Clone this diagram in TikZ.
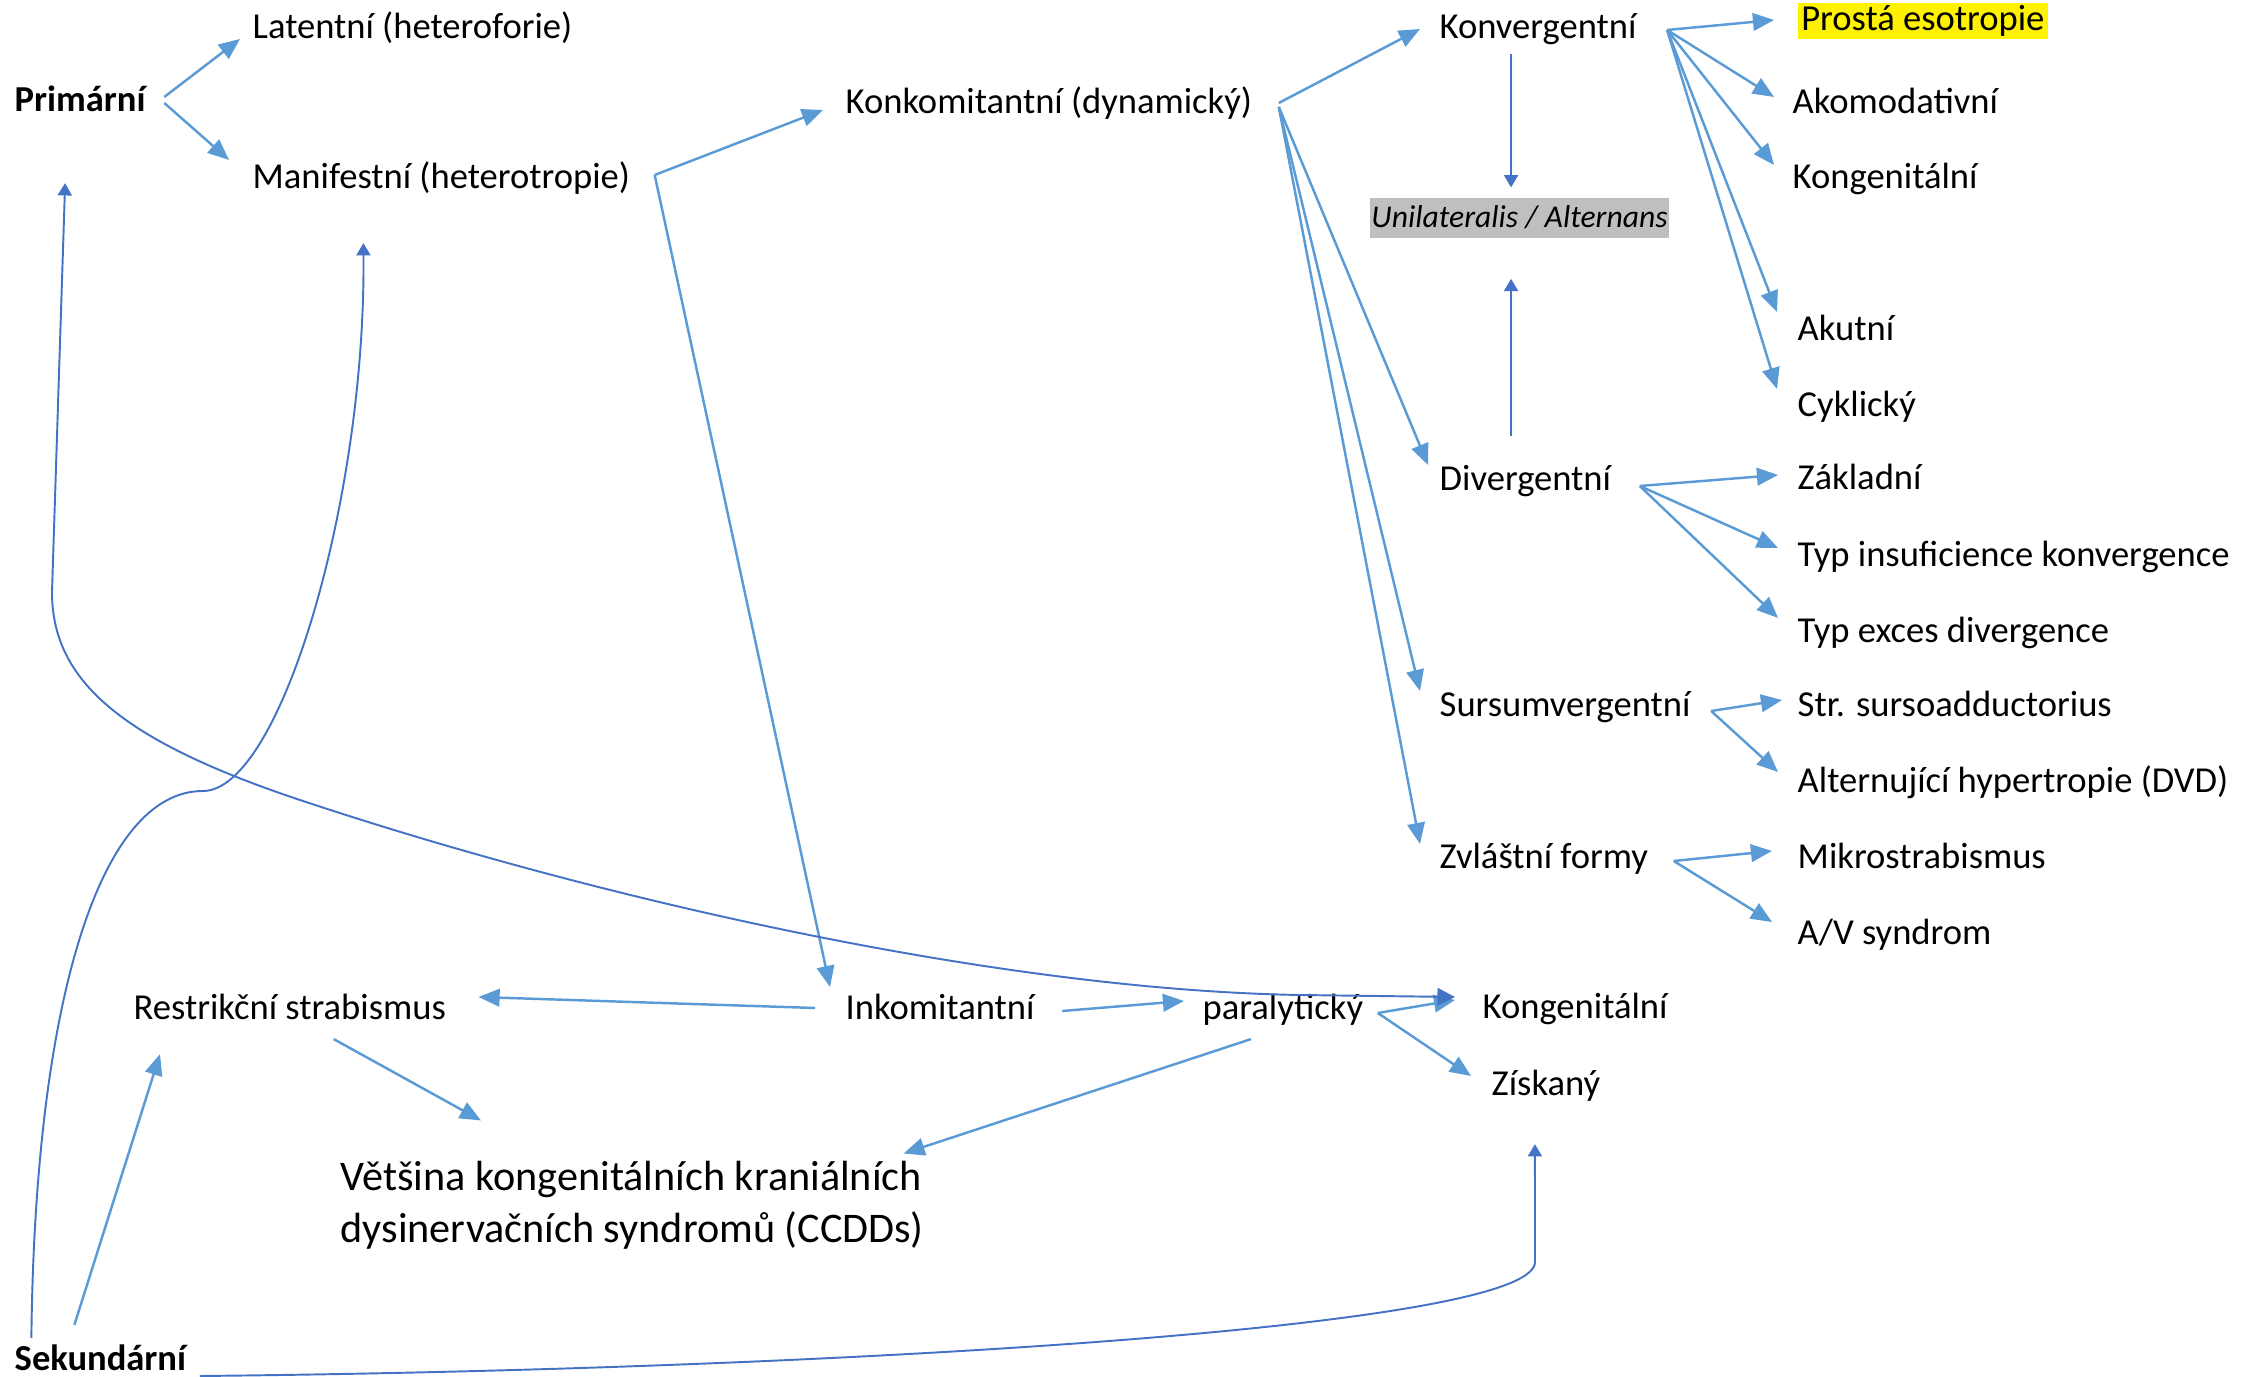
\documentclass[tikz,border=0pt]{standalone}
\usepackage{fontspec}
\setmainfont{Carlito}
\usetikzlibrary{arrows.meta}
\definecolor{svetla}{HTML}{5B9BD5}
\definecolor{tmava}{HTML}{4472C4}
\definecolor{seda}{HTML}{BFBFBF}
\tikzset{sipka/.style={line width=0.7pt, svetla, -{Triangle[length=6pt,width=5pt]}}}
\tikzset{tenka/.style={line width=0.55pt, tmava, -{Triangle[length=3.5pt,width=4pt]}}}
\tikzset{obe/.style={line width=0.55pt, tmava, {Triangle[length=3.5pt,width=4pt]}-{Triangle[length=5pt,width=5pt]}}}
\tikzset{pojem/.style={anchor=west, inner sep=0pt, text height=0.65em, text depth=0pt}}
\tikzset{tucne/.style={pojem, font=\fontsize{10.4}{12.5}\selectfont\bfseries}}

\begin{document}
\begin{tikzpicture}[
                x=0.01cm, y=-0.01cm,
                every node/.style={font=\fontsize{10.4}{12.5}\selectfont, text=black}
            ]
                \useasboundingbox (0,0) rectangle (2243,1377);

                % hlavni vetve
                \node[tucne] (prim) at (14,100) {Primární};
                \node[pojem] (lat) at (252,27) {Latentní (heteroforie)};
                \node[pojem] (man) at (252,177) {Manifestní (heterotropie)};
                \node[pojem] (konk) at (845,102) {Konkomitantní (dynamický)};
                \node[pojem] (inkom) at (845,1008) {Inkomitantní};

                % konkomitantni
                \node[pojem] (konv) at (1439,27) {Konvergentní};
                \node[pojem] (div) at (1439,479) {Divergentní};
                \node[pojem] (surs) at (1439,705) {Sursumvergentní};
                \node[pojem] (zvl) at (1439,857) {Zvláštní formy};
                \node[pojem, fill=seda, text height=0.78em, text depth=0.22em, inner xsep=0.5pt, inner ysep=0.7pt, font=\fontsize{9}{11}\selectfont\itshape] (unil) at (1369,218) {Unilateralis / Alternans};

                \node[pojem, fill=yellow, text height=0.78em, text depth=0.22em, inner xsep=1pt] (prosta) at (1797,21) {Prostá esotropie};
                \node[pojem] (akom) at (1792,102) {Akomodativní};
                \node[pojem] (kongT) at (1792,177) {Kongenitální};
                \node[pojem] (akut) at (1797,329) {Akutní};
                \node[pojem] (cykl) at (1797,405) {Cyklický};
                \node[pojem] (zakl) at (1797,478) {Základní};
                \node[pojem] (insuf) at (1797,555) {Typ insuficience konvergence};
                \node[pojem] (exces) at (1797,631) {Typ exces divergence};
                \node[pojem] (str) at (1797,705) {Str. sursoadductorius};
                \node[pojem] (dvd) at (1797,781) {Alternující hypertropie (DVD)};
                \node[pojem] (mikro) at (1797,857) {Mikrostrabismus};
                \node[pojem] (av) at (1797,933) {A/V syndrom};

                % inkomitantni
                \node[pojem] (restr) at (133,1008) {Restrikční strabismus};
                \node[pojem] (para) at (1202,1008) {paralytický};
                \node[pojem] (kongB) at (1482,1007) {Kongenitální};
                \node[pojem] (zisk) at (1491,1084) {Získaný};
                \node[anchor=base west, align=left, inner sep=0pt, font=\fontsize{12}{14.65}\selectfont] (vets) at (340,1242) {Většina kongenitálních kraniálních\\dysinervačních syndromů (CCDDs)};
                \node[tucne] (sek) at (14,1359) {Sekundární};

                \draw[sipka] ([shift={(18,-3)}]prim.east) -- ([shift={(-12,12)}]lat.west);
                \draw[sipka] ([shift={(18,3)}]prim.east) -- ([shift={(-23,-17)}]man.west);
                \draw[sipka] ([shift={(24,-2)}]man.east) -- ([shift={(-22,8)}]konk.west);
                \draw[sipka] ([shift={(24,-2)}]man.east) -- ([shift={(-15,-21)}]inkom.west);

                \draw[sipka] ([shift={(26,1)}]konk.east) -- ([shift={(-19,2)}]konv.west);
                \draw[sipka] ([shift={(26,5)}]konk.east) -- ([shift={(-11,-14)}]div.west);
                \draw[sipka] ([shift={(26,5)}]konk.east) -- ([shift={(-19,-14)}]surs.west);
                \draw[sipka] ([shift={(26,5)}]konk.east) -- ([shift={(-19,-13)}]zvl.west);

                \draw[sipka] ([shift={(30,3)}]konv.east) -- ([shift={(-23,-1)}]prosta.west);
                \draw[sipka] ([shift={(30,3)}]konv.east) -- ([shift={(-18,-5)}]akom.west);
                \draw[sipka] ([shift={(30,3)}]konv.east) -- ([shift={(-18,-12)}]kongT.west);
                \draw[sipka] ([shift={(30,3)}]konv.east) -- ([shift={(-20,-17)}]akut.west);
                \draw[sipka] ([shift={(30,3)}]konv.east) -- ([shift={(-20,-16)}]cykl.west);

                % svisle k unil
                \coordinate (osa) at ([shift={(-27,15)}]konv.south);
                \coordinate (osa2) at ([shift={(0,-31)}]div.north);
                \draw[tenka, shorten >=2.8pt] (osa) -- (osa |- unil.north);
                \draw[tenka, shorten >=11.4pt] (osa2 -| osa) -- (osa |- unil.south);

                \draw[sipka] ([shift={(28,7)}]div.east) -- ([shift={(-19,-3)}]zakl.west);
                \draw[sipka] ([shift={(28,7)}]div.east) -- ([shift={(-19,-7)}]insuf.west);
                \draw[sipka] ([shift={(28,7)}]div.east) -- ([shift={(-19,-13)}]exces.west);
                \draw[sipka] ([shift={(20,6)}]surs.east) -- ([shift={(-15,-5)}]str.west);
                \draw[sipka] ([shift={(20,6)}]surs.east) -- ([shift={(-19,-9)}]dvd.west);
                \draw[sipka] ([shift={(25,4)}]zvl.east) -- ([shift={(-25,-6)}]mikro.west);
                \draw[sipka] ([shift={(25,4)}]zvl.east) -- ([shift={(-25,-11)}]av.west);

                \draw[sipka] ([shift={(-30,0)}]inkom.west) -- ([shift={(32,-11)}]restr.east);
                \draw[sipka] ([shift={(27,3)}]inkom.east) -- ([shift={(-18,-7)}]para.west);
                \draw[sipka] ([shift={(14,5)}]para.east) -- ([shift={(-27,-7)}]kongB.west);
                \draw[sipka] ([shift={(14,5)}]para.east) -- ([shift={(-20,-8)}]zisk.west);
                \draw[sipka] ([shift={(-32,19)}]para.south) -- ([shift={(-21,-7)}]vets.north east);
                \draw[sipka] ([shift={(44,19)}]restr.south) -- ([shift={(141,-40)}]vets.north west);
                \draw[sipka] ([shift={(-26,-22)}]sek.north) -- ([shift={(27,34)}]restr.south west);

                % oblouky
                \draw[obe] ([shift={(-15,71)}]prim.south) -- (52,592) .. controls (52,680) and (120,740) .. (300,800) .. controls (600,900) and (1000,990) .. (1300,995) -- ([shift={(-27,-10)}]kongB.west);
                \draw[tenka] ([shift={(-69,-9)}]sek.north) .. controls (35,1000) and (100,791) .. (203,791) .. controls (280,791) and (366,500) .. ([shift={(-78,54)}]man.south);
                \draw[tenka] ([shift={(13,17)}]sek.east) .. controls (800,1370) and (1535,1330) .. (1535,1262) -- ([shift={(-11,48)}]zisk.south);
            \end{tikzpicture}
\end{document}
